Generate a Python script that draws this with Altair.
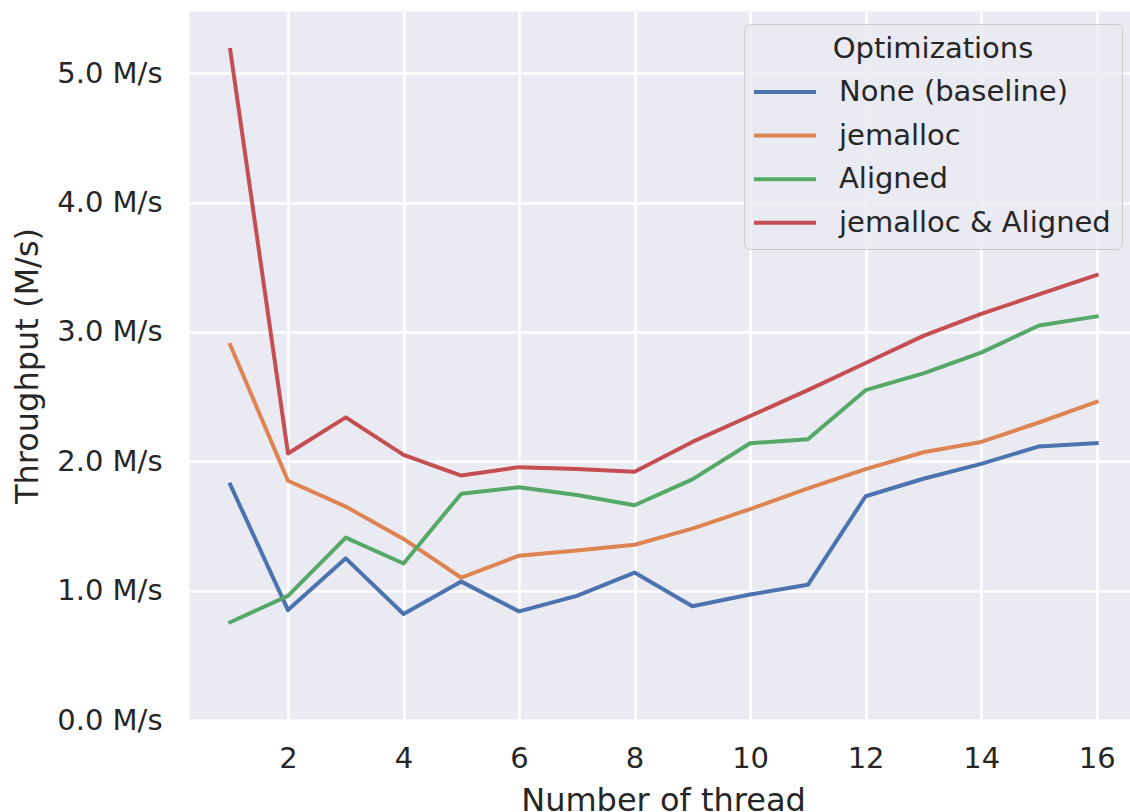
import altair as alt
import pandas as pd

threads = list(range(1, 17))
series_names = ["None (baseline)", "jemalloc", "Aligned", "jemalloc & Aligned"]
series_colors = ["#4C72B0", "#DD8452", "#55A868", "#C44E52"]

baseline = [1.82, 0.85, 1.25, 0.82, 1.07, 0.84, 0.96, 1.14, 0.88, 0.97, 1.045, 1.73, 1.865, 1.98, 2.115, 2.14]
jemalloc = [2.90, 1.85, 1.65, 1.40, 1.10, 1.27, 1.31, 1.355, 1.48, 1.63, 1.79, 1.94, 2.07, 2.15, 2.30, 2.46]
aligned = [0.756, 0.96, 1.41, 1.21, 1.75, 1.80, 1.74, 1.66, 1.86, 2.14, 2.17, 2.55, 2.68, 2.84, 3.05, 3.12]
both = [5.18, 2.06, 2.34, 2.05, 1.89, 1.955, 1.94, 1.92, 2.15, 2.35, 2.55, 2.76, 2.97, 3.14, 3.29, 3.44]

x_ticks = [2, 4, 6, 8, 10, 12, 14, 16]
y_ticks = [0, 1, 2, 3, 4, 5]

rows = []
for name, vals in zip(series_names, [baseline, jemalloc, aligned, both]):
    for t, v in zip(threads, vals):
        rows.append({"threads": t, "throughput": v, "series": name})
df = pd.DataFrame(rows)

FONT = "DejaVu Sans"
TXT = "#262626"

chart = (
    alt.Chart(df)
    .mark_line(strokeWidth=4, strokeJoin="round", strokeCap="square")
    .encode(
        x=alt.X(
            "threads:Q",
            scale=alt.Scale(domain=[0.286, 16.577], nice=False, zero=False),
            axis=alt.Axis(
                values=x_ticks,
                title="Number of thread",
                labelFlush=False,
                labelPadding=47.7,
                labelBaseline="alphabetic",
                titleX=474,
                titleY=90,
                titleBaseline="alphabetic",
                titleAlign="center",
                titleAnchor="middle",
            ),
        ),
        y=alt.Y(
            "throughput:Q",
            scale=alt.Scale(domain=[0, 5.4816], nice=False, zero=False),
            axis=alt.Axis(
                values=y_ticks,
                labelExpr="format(datum.value, '.1f') + ' M/s'",
                title="Throughput (M/s)",
                labelPadding=27,
                titleX=-152,
                titleY=354.5,
                titleAngle=270,
                titleBaseline="alphabetic",
                titleAlign="center",
            ),
        ),
        color=alt.Color(
            "series:N",
            sort=series_names,
            scale=alt.Scale(domain=series_names, range=series_colors),
            legend=alt.Legend(
                orient="none",
                legendX=555,
                legendY=13,
                title="Optimizations",
                titleAnchor="middle",
                titleFontSize=29,
                titleFontWeight="normal",
                titleColor=TXT,
                titleFont=FONT,
                titlePadding=6,
                titleLimit=0,
                labelFontSize=29,
                labelColor=TXT,
                labelFont=FONT,
                labelOffset=32,
                labelLimit=0,
                symbolType="M-1.55,0L1.55,0",
                symbolSize=1600,
                symbolStrokeWidth=4,
                symbolOffset=8,
                rowPadding=6.6,
                padding=11,
                fillColor="rgba(234,234,242,0.8)",
                strokeColor="#cccccc",
                cornerRadius=6,
            ),
        ),
    )
    .properties(
        width=941,
        height=709,
        autosize=alt.AutoSizeParams(type="none"),
        padding={"left": 189, "top": 11, "right": 0, "bottom": 92},
        background="white",
    )
    .configure_view(fill="#EAEAF2", stroke="transparent")
    .configure_axis(
        grid=True,
        gridColor="white",
        gridWidth=2.6,
        domain=False,
        ticks=False,
        labelFont=FONT,
        labelFontSize=29,
        labelColor=TXT,
        titleFont=FONT,
        titleFontSize=32,
        titleFontWeight="normal",
        titleColor=TXT,
    )
)

chart.save("out.html", embed_options={"renderer": "svg", "actions": False})
